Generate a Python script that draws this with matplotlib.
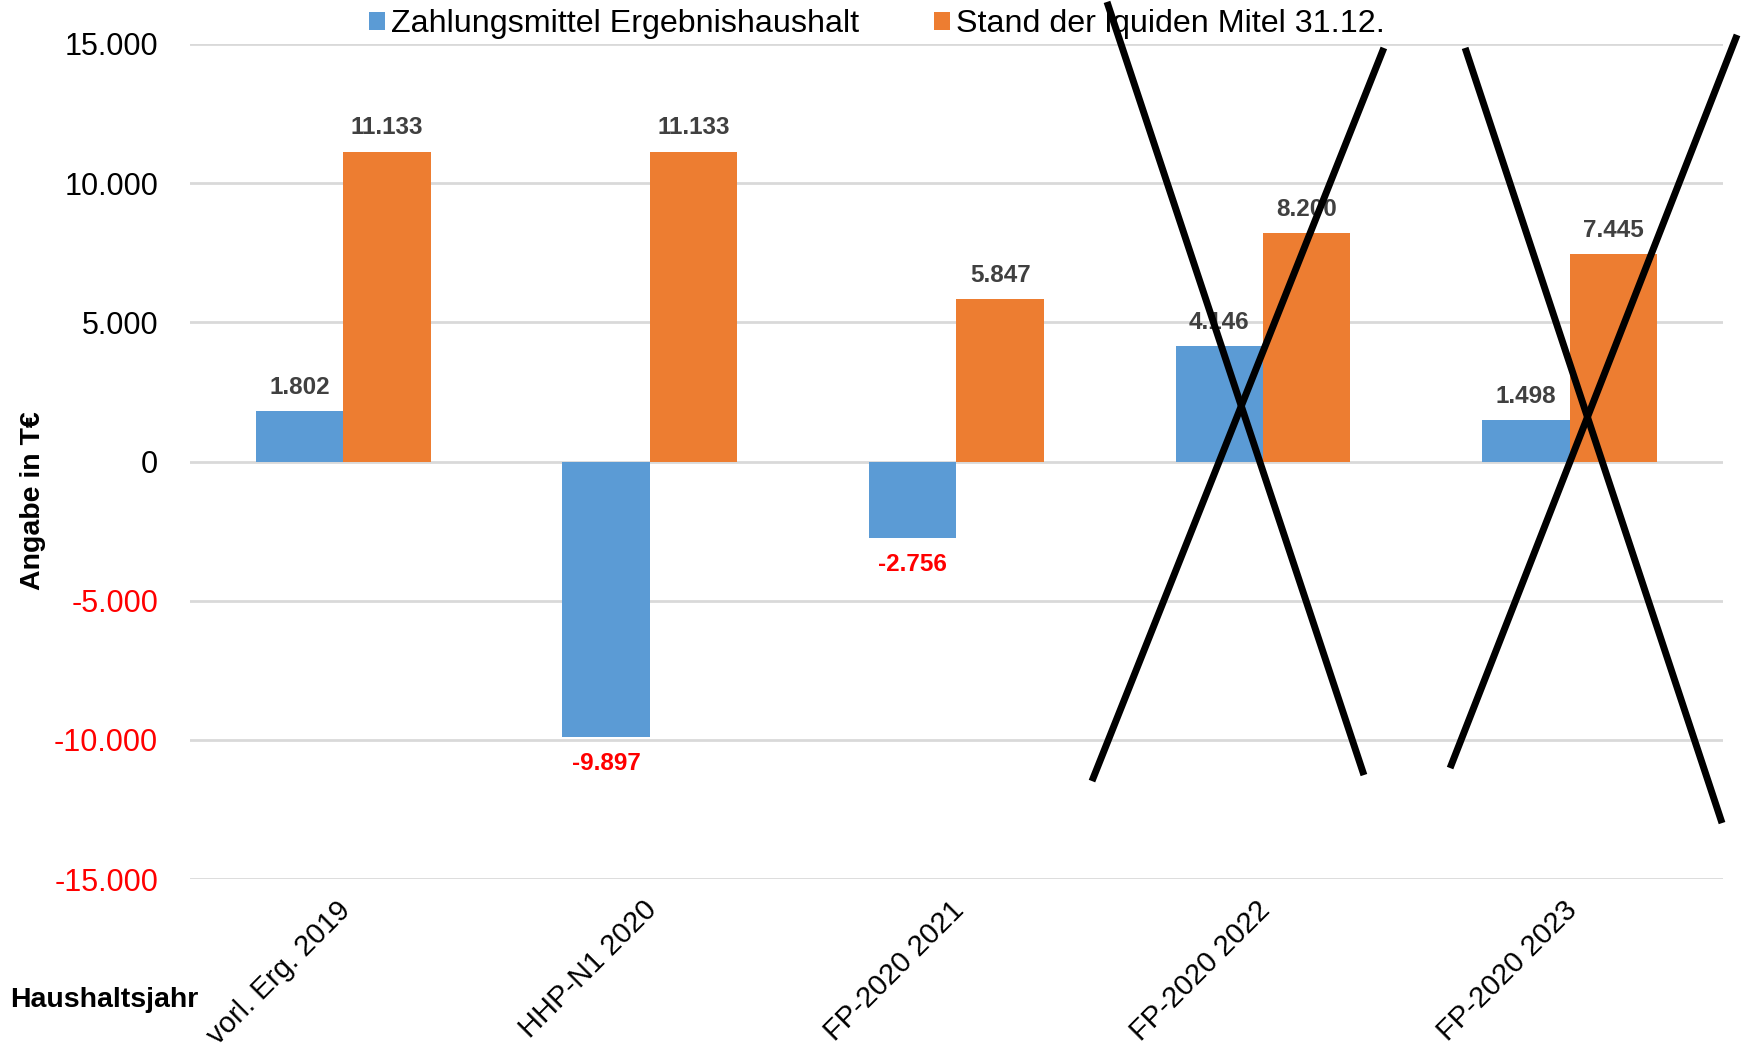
import numpy as np
import matplotlib.pyplot as plt
from matplotlib.transforms import ScaledTranslation

plt.rcParams["font.family"] = ["Liberation Sans", "DejaVu Sans"]

# Haushaltsdaten in T€
categories = ["vorl. Erg. 2019", "HHP-N1 2020", "FP-2020 2021", "FP-2020 2022", "FP-2020 2023"]
zahlungsmittel = [1802, -9897, -2756, 4146, 1498]
liquide_mittel = [11133, 11133, 5847, 8200, 7445]
series_names = ["Zahlungsmittel Ergebnishaushalt", "Stand der lquiden Mitel 31.12."]
y_ticks = [-15000, -10000, -5000, 0, 5000, 10000, 15000]

# durchgestrichene Planjahre: Linien in Datenkoordinaten (x in Kategorien, y in T€)
cross_lines = [
    ((2.491, 16510), (3.329, -11264)),
    ((2.442, -11480), (3.394, 14857)),
    ((3.659, 14857), (4.497, -12989)),
    ((3.610, -11012), (4.546, 15324)),
]

BLUE = "#5B9BD5"
ORANGE = "#ED7D31"
LABEL_GRAY = "#404040"
RED = "#FF0000"


def de_format(v):
    return f"{v:,}".replace(",", ".")


fig = plt.figure(figsize=(17.54, 10.49), dpi=100)
ax = fig.add_axes([0.1083, 0.162, 0.874, 0.7961])

x = np.arange(len(categories))
w = 0.285
bars_blue = ax.bar(x - w / 2, zahlungsmittel, w, color=BLUE, label=series_names[0], zorder=2)
bars_orange = ax.bar(x + w / 2, liquide_mittel, w, color=ORANGE, label=series_names[1], zorder=2)

# Datenbeschriftungen
for bars, vals in ((bars_blue, zahlungsmittel), (bars_orange, liquide_mittel)):
    for b, v in zip(bars, vals):
        cx = b.get_x() + b.get_width() / 2
        if v >= 0:
            ax.annotate(de_format(v), (cx, v), xytext=(0, 17), textcoords="offset points",
                        ha="center", va="center", fontsize=17.5, fontweight="bold",
                        color=LABEL_GRAY, zorder=3)
        else:
            ax.annotate(de_format(v), (cx, v), xytext=(0, -19), textcoords="offset points",
                        ha="center", va="center", fontsize=17.5, fontweight="bold",
                        color=RED, zorder=3)

ax.set_xlim(-0.5, len(categories) - 0.5)
ax.set_ylim(-15000, 15000)
ax.set_yticks(y_ticks)
ax.set_yticklabels([de_format(t) for t in y_ticks], fontsize=22)
for lbl, t in zip(ax.get_yticklabels(), y_ticks):
    lbl.set_color(RED if t < 0 else "black")
ax.tick_params(axis="y", length=0, pad=23)

ax.set_xticks(x)
ax.set_xticklabels(categories, rotation=45, ha="right", va="top",
                   rotation_mode="anchor", fontsize=21)
ax.tick_params(axis="x", length=0, pad=12)
shift = ScaledTranslation(-7 / 100, 0, fig.dpi_scale_trans)
for lbl in ax.get_xticklabels():
    lbl.set_transform(lbl.get_transform() + shift)

ax.grid(axis="y", color="#D9D9D9", linewidth=2, zorder=0)
ax.set_axisbelow(True)
for s in ax.spines.values():
    s.set_visible(False)

fig.text(0.019, 0.523, "Angabe in T€", rotation=90, ha="center", va="center",
         fontsize=20.5, fontweight="bold")
fig.text(0.006, 0.047, "Haushaltsjahr", ha="left", va="center",
         fontsize=20.5, fontweight="bold")

fig.legend(loc="center", bbox_to_anchor=(0.5, 0.977), ncol=2, frameon=False,
           fontsize=23.2, handlelength=0.5, handleheight=0.5, handletextpad=0.2,
           columnspacing=2.3)

# Kreuze über den Planjahren 2022 und 2023
for (x0, y0), (x1, y1) in cross_lines:
    ax.plot([x0, x1], [y0, y1], color="black", linewidth=5,
            solid_capstyle="butt", clip_on=False, zorder=5)

fig.savefig("out.png", dpi=100)
